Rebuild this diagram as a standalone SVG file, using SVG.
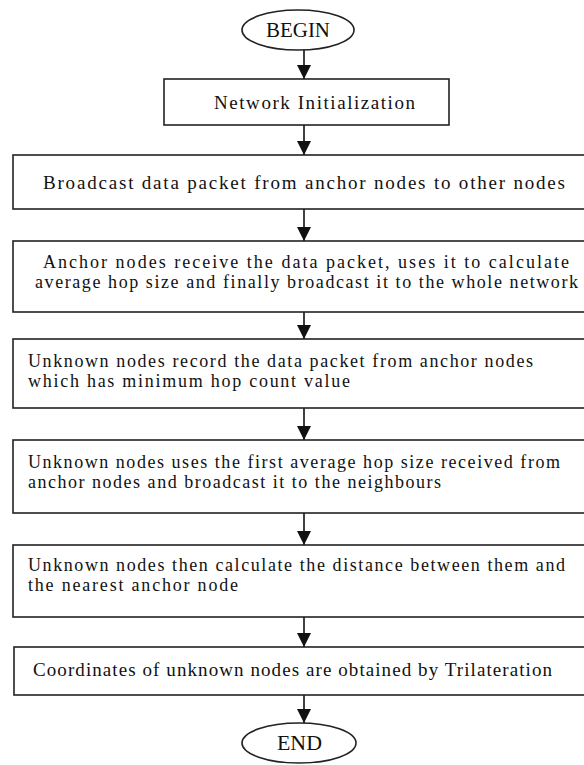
<svg xmlns="http://www.w3.org/2000/svg" width="584" height="765" viewBox="0 0 584 765">
<style>
.box{fill:#fff;stroke:#222;stroke-width:1.6}
.t{font-family:"Liberation Serif","Times New Roman",serif;font-size:19px;fill:#111}
.m{font-size:18px}
.ln{stroke:#111;stroke-width:1.6;fill:none}
</style>
<defs>
<marker id="ah" viewBox="0 0 10 10" refX="10" refY="5" markerWidth="14" markerHeight="14" markerUnits="userSpaceOnUse" orient="auto">
<path d="M0,0 L10,5 L0,10 Z" fill="#111"/>
</marker>
</defs>
<rect width="584" height="765" fill="#fff"/>
<g id="connectors">
<line class="ln" x1="304" y1="50" x2="304" y2="79" marker-end="url(#ah)"/>
<line class="ln" x1="304" y1="125" x2="304" y2="155" marker-end="url(#ah)"/>
<line class="ln" x1="304" y1="209" x2="304" y2="241" marker-end="url(#ah)"/>
<line class="ln" x1="304" y1="312" x2="304" y2="339" marker-end="url(#ah)"/>
<line class="ln" x1="304" y1="408" x2="304" y2="440" marker-end="url(#ah)"/>
<line class="ln" x1="304" y1="513" x2="304" y2="545" marker-end="url(#ah)"/>
<line class="ln" x1="304" y1="617" x2="304" y2="647" marker-end="url(#ah)"/>
<line class="ln" x1="304" y1="695" x2="304" y2="723" marker-end="url(#ah)"/>
</g>
<g id="begin">
<ellipse class="box" cx="298" cy="30" rx="56" ry="20"/>
<text class="t" x="266" y="37" textLength="64" lengthAdjust="spacingAndGlyphs" style="font-size:20px">BEGIN</text>
</g>
<g id="init">
<rect class="box" x="164" y="79" width="285" height="46"/>
<text class="t" x="214" y="109" textLength="201" lengthAdjust="spacing">Network Initialization</text>
</g>
<g id="broadcast">
<rect class="box" x="13" y="155" width="582" height="54"/>
<text class="t" x="43" y="189" textLength="522" lengthAdjust="spacing">Broadcast data packet from anchor nodes to other nodes</text>
</g>
<g id="anchor">
<rect class="box" x="13" y="241" width="582" height="71"/>
<text class="t m" x="43" y="268" textLength="526" lengthAdjust="spacing">Anchor nodes receive the data packet, uses it to calculate</text>
<text class="t m" x="35" y="288" textLength="543" lengthAdjust="spacing">average hop size and finally broadcast it to the whole network</text>
</g>
<g id="record">
<rect class="box" x="13" y="339" width="582" height="69"/>
<text class="t m" x="28" y="367" textLength="505" lengthAdjust="spacing">Unknown nodes record the data packet from anchor nodes</text>
<text class="t m" x="28" y="387" textLength="322" lengthAdjust="spacing">which has minimum hop count value</text>
</g>
<g id="uses">
<rect class="box" x="13" y="440" width="582" height="73"/>
<text class="t m" x="28" y="468" textLength="532" lengthAdjust="spacing">Unknown nodes uses the first average hop size received from</text>
<text class="t m" x="28" y="488" textLength="413" lengthAdjust="spacing">anchor nodes and broadcast it to the neighbours</text>
</g>
<g id="distance">
<rect class="box" x="13" y="545" width="582" height="72"/>
<text class="t m" x="28" y="571" textLength="537" lengthAdjust="spacing">Unknown nodes then calculate the distance between them and</text>
<text class="t m" x="28" y="591" textLength="210" lengthAdjust="spacing">the nearest anchor node</text>
</g>
<g id="coordinates">
<rect class="box" x="14" y="647" width="581" height="48"/>
<text class="t" x="33" y="676" textLength="519" lengthAdjust="spacing">Coordinates of unknown nodes are obtained by Trilateration</text>
</g>
<g id="end">
<ellipse class="box" cx="299" cy="743" rx="57" ry="20"/>
<text class="t" x="277" y="750" textLength="45" lengthAdjust="spacingAndGlyphs" style="font-size:20px">END</text>
</g>
</svg>
